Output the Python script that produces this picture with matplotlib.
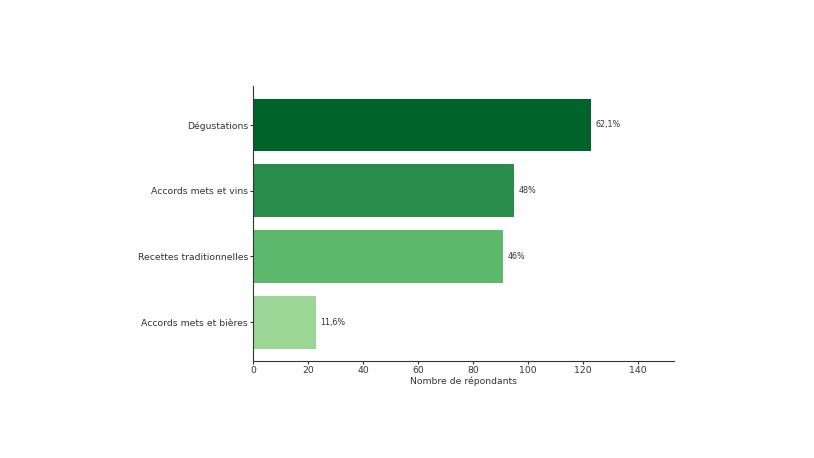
import matplotlib
matplotlib.use("Agg")
import matplotlib.pyplot as plt

categories = ["Dégustations", "Accords mets et vins", "Recettes traditionnelles", "Accords mets et bières"]
values = [123, 95, 91, 23]
labels = ["62,1%", "48%", "46%", "11,6%"]
colors = ["#00632a", "#2a8c4a", "#5cb86a", "#9cd694"]

fig = plt.figure(figsize=(8.14, 4.58), dpi=100)
ax = fig.add_axes([253/814, 1-361/458, (674-253)/814, (361-86)/458])
ypos = list(range(len(categories)))
ax.barh(ypos, values, color=colors, height=0.8)
ax.invert_yaxis()
ax.set_yticks(ypos)
ax.set_yticklabels(categories)
ax.set_xlim(0, 153)
ax.set_xticks([0, 20, 40, 60, 80, 100, 120, 140])
for y, v, l in zip(ypos, values, labels):
    ax.text(v + 1.5, y, l, va="center", ha="left", fontsize=5.8, color="#333333")
ax.spines["top"].set_visible(False)
ax.spines["right"].set_visible(False)
for s in ax.spines.values():
    s.set_color("#333333")
ax.tick_params(labelsize=6.7, colors="#333333", length=2, pad=1.5)
ax.set_xlabel("Nombre de répondants", fontsize=6.7, color="#333333", labelpad=1.5)
fig.savefig("out.png", dpi=100, facecolor="white")
